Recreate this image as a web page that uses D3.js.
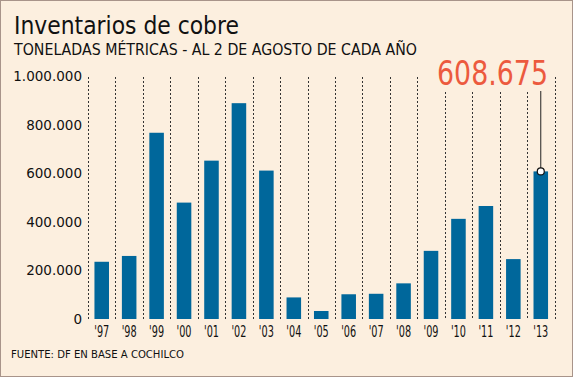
<!DOCTYPE html>
<html>
<head>
<meta charset="utf-8">
<script src="https://cdn.jsdelivr.net/npm/d3@7"></script>
<style>
  body { margin: 0; background: #fff; }
  svg text { font-family: "DejaVu Sans", Verdana, sans-serif; }
</style>
</head>
<body>
<svg id="chart"></svg>
<script>
const width = 575;
const height = 378;

const years = ["'97", "'98", "'99", "'00", "'01", "'02", "'03", "'04", "'05", "'06", "'07", "'08", "'09", "'10", "'11", "'12", "'13"];
const tonnes = [236000, 260000, 768000, 480000, 653000, 890000, 612000, 89000, 33000, 102000, 104000, 147000, 281000, 413000, 466000, 247000, 608675];
const yTicks = [0, 200000, 400000, 600000, 800000, 1000000];

const title = "Inventarios de cobre";
const subtitle = "TONELADAS MÉTRICAS - AL 2 DE AGOSTO DE CADA AÑO";
const source = "FUENTE: DF EN BASE A COCHILCO";
const highlight = "608.675";

const svg = d3.select("#chart")
  .attr("width", width)
  .attr("height", height);

svg.append("rect")
  .attr("x", 0.5).attr("y", 0.5)
  .attr("width", 572).attr("height", 376)
  .attr("fill", "#fcefdf")
  .attr("stroke", "#a8948a");

const x = d3.scaleBand()
  .domain(years)
  .range([88, 554.5])
  .padding(0);

const y = d3.scaleLinear()
  .domain([0, 1000000])
  .range([319, 76.5]);

const fmt = d3.formatLocale({ decimal: ",", thousands: ".", grouping: [3], currency: ["$", ""] }).format(",d");

// titles
svg.append("text")
  .attr("x", 14).attr("y", 34)
  .attr("font-size", 24)
  .attr("textLength", 225).attr("lengthAdjust", "spacingAndGlyphs")
  .attr("fill", "#111")
  .text(title);

svg.append("text")
  .attr("x", 14).attr("y", 55)
  .attr("font-size", 15)
  .attr("textLength", 403).attr("lengthAdjust", "spacingAndGlyphs")
  .attr("fill", "#111")
  .text(subtitle);

// highlight label, squeezed horizontally to fit
const hx = x("'13") + x.bandwidth() / 2;
const labelLeft = 437, labelRight = 548;

const hl = svg.append("text")
  .attr("font-size", 34)
  .attr("fill", "#ec5a3e")
  .text(highlight);
const natural = hl.node().getComputedTextLength();
hl.attr("transform", `translate(${labelLeft},85) scale(${(labelRight - labelLeft) / natural},1)`);

// dashed separators
const bounds = years.map(d => x(d)).concat([x.range()[1]]);
svg.append("g")
  .selectAll("line")
  .data(bounds)
  .join("line")
  .attr("x1", d => Math.round(d) + 0.5)
  .attr("x2", d => Math.round(d) + 0.5)
  .attr("y1", d => (d > labelLeft && d < labelRight + 2) ? 92 : 77)
  .attr("y2", y(0))
  .attr("stroke", "#333")
  .attr("stroke-width", 1)
  .attr("stroke-dasharray", "2,2");

// bars
const barW = x.bandwidth() * 0.53;
svg.append("g")
  .selectAll("rect")
  .data(tonnes)
  .join("rect")
  .attr("x", (d, i) => x(years[i]) + (x.bandwidth() - barW) / 2)
  .attr("y", d => y(d))
  .attr("width", barW)
  .attr("height", d => y(0) - y(d))
  .attr("fill", "#00679b");

// y axis labels
svg.append("g")
  .selectAll("text")
  .data(yTicks)
  .join("text")
  .attr("x", 82)
  .attr("y", d => y(d))
  .attr("dy", "0.36em")
  .attr("text-anchor", "end")
  .attr("font-size", 13.5)
  .attr("fill", "#111")
  .text(d => fmt(d));

// x axis labels
svg.append("g")
  .selectAll("text")
  .data(years)
  .join("text")
  .attr("x", d => x(d) + x.bandwidth() / 2 - 7.5)
  .attr("y", 337)
  .attr("font-size", 15)
  .attr("textLength", 15).attr("lengthAdjust", "spacingAndGlyphs")
  .attr("fill", "#111")
  .text(d => d);

// callout line + marker
svg.append("line")
  .attr("x1", hx).attr("x2", hx)
  .attr("y1", 91).attr("y2", y(tonnes[tonnes.length - 1]))
  .attr("stroke", "#222")
  .attr("stroke-width", 1);

svg.append("circle")
  .attr("cx", hx).attr("cy", y(tonnes[tonnes.length - 1]))
  .attr("r", 3.5)
  .attr("fill", "#fff")
  .attr("stroke", "#111")
  .attr("stroke-width", 1.2);

// source
svg.append("text")
  .attr("x", 11).attr("y", 357.5)
  .attr("font-size", 11)
  .attr("textLength", 173).attr("lengthAdjust", "spacingAndGlyphs")
  .attr("fill", "#111")
  .text(source);
</script>
</body>
</html>
